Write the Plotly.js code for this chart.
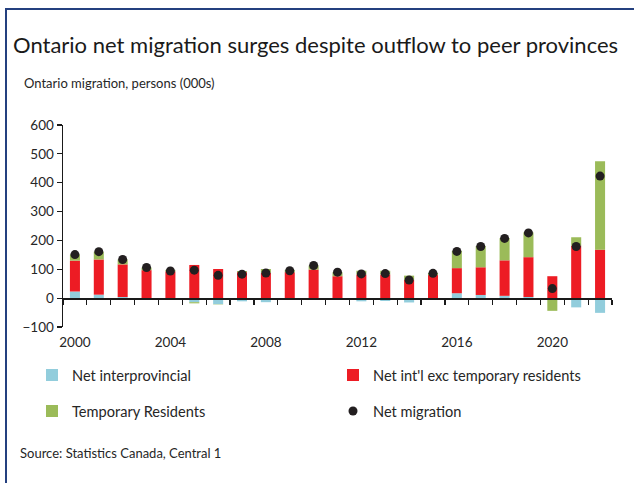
<!DOCTYPE html>
<html>
<head>
<meta charset="utf-8">
<script src="https://cdn.plot.ly/plotly-3.0.1.min.js"></script>
<style>
html,body{margin:0;padding:0;background:#fff;}
#wrap{position:relative;width:634px;height:483px;}
#chart{width:634px;height:483px;}
#frame{position:absolute;left:5px;top:8px;right:0;bottom:0;border-left:2px solid #24407F;border-top:2px solid #24407F;pointer-events:none;}
</style>
</head>
<body>
<div id="wrap"><div id="chart"></div><div id="frame"></div></div>
<script>
// Data (persons, 000s)
const years = [2000,2001,2002,2003,2004,2005,2006,2007,2008,2009,2010,2011,2012,2013,2014,2015,2016,2017,2018,2019,2020,2021,2022];
const netInterprovincial = [23,12,4,-1,-4,-14,-21,-11,-14,-3,0,0,-11,-10,-15,-1,17,11,8,4,-1,-32,-51];
const netIntlExcTemp = [107,122,113,97,93,115,101,90,88,90,99,76,82,82,63,80,87,96,123,138,76,182,168];
const temporaryResidents = [21,27,17,9,5,-4,-1,4,13,8,14,14,13,13,15,7,60,74,77,86,-43,29,306];
const netMigration = [151,161,134,106,94,97,79,83,87,95,113,90,84,85,63,86,162,179,207,226,33,179,423];
const tickYears = [2000,2004,2008,2012,2016,2020];
const tickLabels = ["2000","2004","2008","2012","2016","2020"];

const FONT = "Lato, 'Open Sans', sans-serif";
const TXT = "#262626";

const traces = [
  {type:'bar', x:years, y:netInterprovincial, name:'Net interprovincial', marker:{color:'#92CDDC'}, legend:'legend', hoverinfo:'skip'},
  {type:'bar', x:years, y:netIntlExcTemp, name:"Net int'l exc temporary residents", marker:{color:'#ED1C24'}, legend:'legend', hoverinfo:'skip'},
  {type:'bar', x:years, y:temporaryResidents, name:'Temporary Residents', marker:{color:'#9BBB59'}, legend:'legend2', hoverinfo:'skip'},
  {type:'scatter', mode:'markers', x:years, y:netMigration, xaxis:'x2', yaxis:'y', name:'Net migration', marker:{color:'#231F20', size:9}, legend:'legend2', hoverinfo:'skip'}
];

const L = 63, R = 22, T = 125, B = 156;
const PW = 634 - L - R, PH = 483 - T - B;
const px = v => (v - L) / PW;
const py = v => (483 - B - v) / PH;

const layout = {
  width:634, height:483,
  margin:{l:L, r:R, t:T, b:B, pad:0},
  paper_bgcolor:'#fff', plot_bgcolor:'rgba(0,0,0,0)',
  font:{family:FONT, color:TXT, size:13},
  barmode:'relative', bargap:0.58,
  title:{text:'Ontario net migration surges despite outflow to peer provinces', font:{family:FONT, size:22, color:'#1a1a1a'}, xref:'container', yref:'container', x:13/634, xanchor:'left', y:1-45/483, yanchor:'middle'},
  xaxis:{type:'linear', range:[1999.5,2022.5], autorange:false, anchor:'free', position:100/700,
         showline:true, linecolor:'#1a1a1a', linewidth:1.5, ticks:'outside', ticklen:5, tickwidth:1.2, tickcolor:'#1a1a1a',
         tick0:1999.5, dtick:1, showticklabels:false, showgrid:false, zeroline:false, fixedrange:true},
  xaxis2:{type:'linear', range:[1999.5,2022.5], autorange:false, overlaying:'x', anchor:'y', side:'bottom',
          tickmode:'array', tickvals:tickYears, ticktext:tickLabels, ticks:'', ticklabelstandoff:5, showline:false, showgrid:false, zeroline:false,
          tickfont:{family:FONT, size:13.5, color:TXT}, fixedrange:true},
  yaxis:{range:[-100,600], autorange:false, dtick:100, tick0:0, showline:true, linecolor:'#1a1a1a', linewidth:1.5,
         ticks:'outside', ticklen:5, tickwidth:1.2, tickcolor:'#1a1a1a', showgrid:false, zeroline:false,
         tickfont:{family:FONT, size:13.5, color:TXT}, fixedrange:true},
  legend:{orientation:'h', x:px(38), xanchor:'left', y:py(375), yanchor:'middle', entrywidth:256, entrywidthmode:'pixels',
          font:{family:FONT, size:14.6, color:TXT}, bgcolor:'rgba(0,0,0,0)', traceorder:'normal'},
  legend2:{orientation:'h', x:px(38), xanchor:'left', y:py(411), yanchor:'middle', entrywidth:256, entrywidthmode:'pixels',
          font:{family:FONT, size:14.6, color:TXT}, bgcolor:'rgba(0,0,0,0)', traceorder:'normal'},
  annotations:[
    {text:'Ontario migration, persons (000s)', xref:'paper', yref:'paper', x:px(22), y:py(83), xanchor:'left', yanchor:'middle', showarrow:false, font:{family:FONT, size:13, color:TXT}},
    {text:'Source: Statistics Canada, Central 1', xref:'paper', yref:'paper', x:px(18), y:py(453), xanchor:'left', yanchor:'middle', showarrow:false, font:{family:FONT, size:13, color:TXT}}
  ],
  showlegend:true
};

Plotly.newPlot('chart', traces, layout, {displayModeBar:false, staticPlot:true});
</script>
</body>
</html>
